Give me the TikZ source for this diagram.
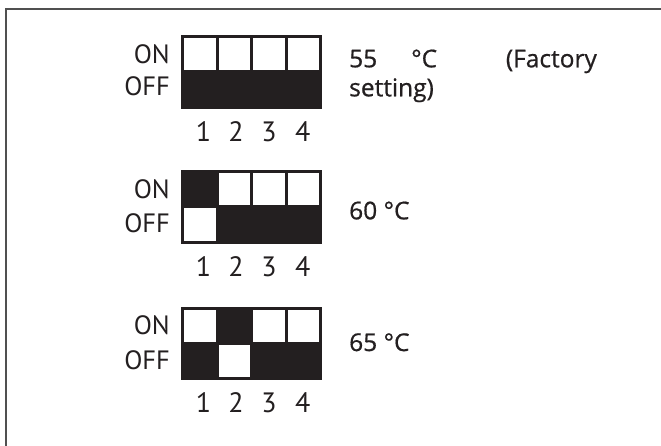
\documentclass[tikz,border=0pt]{standalone}
\usepackage{fontspec}
\setmainfont{PT Sans}
\newfontfamily\rfont{Open Sans}[FakeBold=0.7]
\definecolor{ink}{RGB}{35,31,32}
\definecolor{framegray}{RGB}{80,80,80}
\begin{document}
\begin{tikzpicture}[x=1pt,y=-1pt,
  cell/.style={draw=ink,line width=2.7pt},
  frame/.style={draw=framegray,line width=1.5pt},
  lbl/.style={font=\fontsize{26.5}{28}\selectfont,text=ink,inner sep=0pt,anchor=base east},
  num/.style={font=\fontsize{28}{30}\selectfont,text=ink,inner sep=0pt,anchor=base},
  val/.style={font=\rfont\fontsize{24.5}{29}\selectfont,text=ink,inner sep=0pt,anchor=base west}]
\useasboundingbox (0,0) rectangle (661,445);
\draw[frame] (6,9) rectangle (700,500);
% switches
\foreach \T/\bk in {36.7/0,171.7/1,308.3/2}{
  \pgfmathsetmacro\ym{\T+35}
  \pgfmathsetmacro\yb{\T+70.5}
  \foreach \i in {1,...,4}{
    \pgfmathsetmacro\xa{182.7+34.5*(\i-1)}
    \pgfmathsetmacro\xb{\xa+34.5}
    \ifnum\i=\bk \def\tc{ink}\def\bc{white}\else\def\tc{white}\def\bc{ink}\fi
    \draw[cell,fill=\tc] (\xa,\T) rectangle (\xb,\ym);
    \draw[cell,fill=\bc] (\xa,\ym) rectangle (\xb,\yb);
  }
}
% labels switch 1
\node[lbl] (on1) at (170,63.3) {ON};
\node[lbl] (off1) at (170,95.7) {OFF};
\node[num] (n11) at (203.6,141.7) {1};
\node[num] (n12) at (236,141.7) {2};
\node[num] (n13) at (269,141.7) {3};
\node[num] (n14) at (302.7,141.7) {4};
\node[val] (v1a) at (349,67.3) {55};
\node[val] (v1b) at (411,67.3) {°C};
\node[val] (v1c) at (505.7,67.3) {(Factory};
\node[val] (v1d) at (349,96.3) {setting)};
% labels switch 2
\node[lbl] (on2) at (170,198.5) {ON};
\node[lbl] (off2) at (170,232.8) {OFF};
\node[num] (n21) at (203.6,276) {1};
\node[num] (n22) at (236,276) {2};
\node[num] (n23) at (269,276) {3};
\node[num] (n24) at (302.7,276) {4};
\node[val] (v2) at (349,219.3) {60 °C};
% labels switch 3
\node[lbl] (on3) at (170,334.5) {ON};
\node[lbl] (off3) at (170,369.5) {OFF};
\node[num] (n31) at (203.6,412.6) {1};
\node[num] (n32) at (236,412.6) {2};
\node[num] (n33) at (269,412.6) {3};
\node[num] (n34) at (302.7,412.6) {4};
\node[val] (v3) at (349,351) {65 °C};
\end{tikzpicture}
\end{document}
